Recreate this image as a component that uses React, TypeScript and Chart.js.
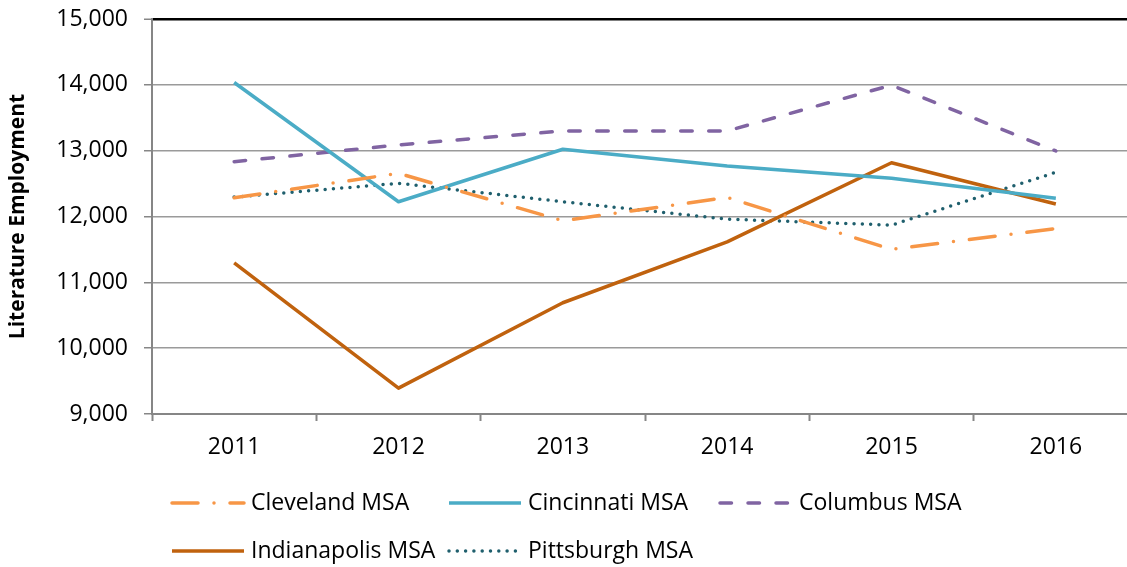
import React, { useEffect, useRef } from 'react';
import { Chart, registerables } from 'chart.js';

Chart.register(...registerables);

const years = ['2011', '2012', '2013', '2014', '2015', '2016'];
const seriesNames = ['Cleveland MSA', 'Cincinnati MSA', 'Columbus MSA', 'Indianapolis MSA', 'Pittsburgh MSA'];
const cleveland = [12285, 12656, 11935, 12290, 11500, 11815];
const cincinnati = [14035, 12224, 13021, 12767, 12580, 12276];
const columbus = [12833, 13087, 13300, 13300, 13995, 12995];
const indianapolis = [11295, 9393, 10690, 11615, 12817, 12189];
const pittsburgh = [12295, 12504, 12224, 11960, 11869, 12671];
const yTicks = [9000, 10000, 11000, 12000, 13000, 14000, 15000];
const yTitle = 'Literature Employment';

const FONT = '"Open Sans"';
const colors = ['#F79646', '#4BACC6', '#8064A2', '#C0620E', '#1F5F6D'];
const dashes = [[26, 16, 0, 16], [], [11.5, 16.5], [], [0, 8.3]];
const caps: CanvasLineCap[] = ['round', 'butt', 'round', 'butt', 'round'];

const legendPlugin = {
  id: 'customLegend',
  afterDraw(chart: any) {
    const ctx = chart.ctx as CanvasRenderingContext2D;
    const colX = [170, 447, 718];
    const rowY = [503, 551];
    chart.data.datasets.forEach((ds: any, i: number) => {
      const x = colX[i % 3];
      const y = rowY[Math.floor(i / 3)];
      ctx.save();
      ctx.strokeStyle = ds.borderColor;
      ctx.lineWidth = ds.borderWidth;
      ctx.lineCap = ds.borderCapStyle;
      ctx.setLineDash(ds.borderDash || []);
      ctx.beginPath();
      ctx.moveTo(x + 2, y);
      ctx.lineTo(x + 74, y);
      ctx.stroke();
      ctx.setLineDash([]);
      ctx.fillStyle = '#000';
      ctx.font = `23px ${FONT}`;
      ctx.textBaseline = 'middle';
      ctx.textAlign = 'left';
      ctx.fillText(ds.label, x + 81, y);
      ctx.restore();
    });
  },
};

export default function App() {
  const ref = useRef<HTMLCanvasElement>(null);
  useEffect(() => {
    const series = [cleveland, cincinnati, columbus, indianapolis, pittsburgh];
    const chart = new Chart(ref.current!, {
      type: 'line',
      data: {
        labels: years,
        datasets: series.map((d, i) => ({
          label: seriesNames[i],
          data: d,
          borderColor: colors[i],
          backgroundColor: colors[i],
          borderWidth: 3.5,
          borderDash: dashes[i],
          borderCapStyle: caps[i],
          borderJoinStyle: 'round',
          pointRadius: 0,
          tension: 0,
          fill: false,
        })),
      },
      options: {
        animation: false,
        responsive: false,
        layout: { padding: { top: 19, right: 2, left: 0, bottom: 0 } },
        plugins: { legend: { display: false }, tooltip: { enabled: false } },
        scales: {
          x: {
            type: 'category',
            offset: true,
            afterFit: (s: any) => { s.height = 153; s.paddingLeft = 0; s.paddingRight = 0; },
            grid: {
              offset: true,
              drawOnChartArea: false,
              drawTicks: true,
              tickLength: 7,
              tickColor: '#868686',
              tickWidth: 2,
            },
            border: { color: '#868686', width: 2 },
            ticks: { color: '#000', font: { family: FONT, size: 23 }, padding: 13, maxRotation: 0 },
          },
          y: {
            min: 9000,
            max: 15000,
            afterFit: (s: any) => { s.width = 152; s.paddingTop = 0; s.paddingBottom = 0; },
            afterBuildTicks: (s: any) => { s.ticks = yTicks.map((v) => ({ value: v })); },
            grid: {
              color: (c: any) => (c.tick && c.tick.value === 15000 ? '#000' : '#9A9A9A'),
              lineWidth: (c: any) => (c.tick && c.tick.value === 15000 ? 2.5 : 1.5),
              tickLength: 8,
              tickColor: '#868686',
              tickWidth: 1.5,
            },
            border: { color: '#868686', width: 2 },
            ticks: {
              color: '#000',
              font: { family: FONT, size: 23 },
              padding: 16,
              callback: (v: any) => Number(v).toLocaleString('en-US'),
            },
            title: {
              display: true,
              text: yTitle,
              color: '#000',
              font: { family: FONT, size: 21, weight: 'bold' },
              padding: { top: 5, bottom: 0 },
            },
          },
        },
      },
      plugins: [legendPlugin],
    });
    return () => chart.destroy();
  }, []);
  return (
    <div style={{ position: 'fixed', left: 0, top: 0, width: 1127, height: 567, overflow: 'hidden', background: '#fff' }}>
      <canvas ref={ref} width={1140} height={567} style={{ display: 'block' }} />
    </div>
  );
}
